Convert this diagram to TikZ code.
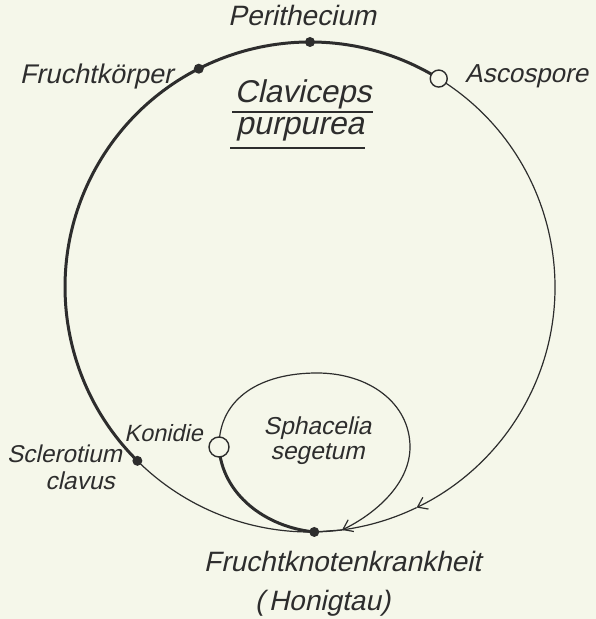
\documentclass[tikz,border=0pt]{standalone}
\usepackage{fontspec}
\newfontfamily\labfont{Liberation Sans}[FakeSlant=0.22]
\usetikzlibrary{arrows.meta,calc}
\definecolor{bg}{RGB}{245,247,234}
\definecolor{ink}{RGB}{45,45,45}
\begin{document}
\begin{tikzpicture}[x=1pt,y=1pt,
  thinline/.style={draw=ink,line width=1.2pt},
  thickline/.style={draw=ink,line width=3pt},
  fulldot/.style={circle,fill=ink,inner sep=0,minimum size=10pt},
  opendot/.style={circle,draw=ink,fill=bg,line width=1.4pt,inner sep=0,minimum size=18pt},
  lab/.style={inner sep=0,text=ink},
  barb/.style={-{Straight Barb[length=9pt,width=13pt,line width=1.2pt]}}]
\fill[bg] (0,0) rectangle (596,619);
\useasboundingbox (0,0) rectangle (596,619);
% big cycle
\coordinate (C) at (310,332);
\coordinate (peri) at ($(C)+(90:245pt)$);
\coordinate (frk) at ($(C)+(117:245pt)$);
\coordinate (asco) at ($(C)+(58.3:245pt)$);
\coordinate (scl) at ($(C)+(225.2:245pt)$);
\coordinate (bot) at ($(C)+(271:245pt)$);
\coordinate (arr) at ($(C)+(295.8:245pt)$);
% small loop
\coordinate (kon) at (219,172);
\coordinate (ltop) at (317,246);
\coordinate (lright) at (410,172);
\coordinate (larr) at (342,89);
% lines
\draw[thickline] (asco) arc[start angle=58.3,end angle=225.2,radius=245pt];
\draw[thinline] (scl) arc[start angle=225.2,end angle=271,radius=245pt];
\draw[thinline,barb] (asco) arc[start angle=58.3,end angle=-64.2,radius=245pt];
\draw[thinline] (arr) arc[start angle=-64.2,end angle=-89,radius=245pt];
\draw[thinline] (kon) .. controls (219,222) and (262,246) .. (ltop)
  .. controls (370,246) and (410,215) .. (lright);
\draw[thinline,barb] (lright) .. controls (410,135) and (375,105) .. (larr);
\draw[thinline] (larr) -- (bot);
\draw[thickline] (bot) .. controls (265,92) and (222,125) .. (kon);
% dots
\node[fulldot] (nperi) at (peri) {};
\node[fulldot] (nfrk) at (frk) {};
\node[fulldot] (nscl) at (scl) {};
\node[fulldot] (nbot) at (bot) {};
\node[opendot,minimum size=17pt] (nasco) at (asco) {};
\node[opendot,minimum size=20pt] (nkon) at (kon) {};
% labels
\node[lab,anchor=base] (tperi) at (302,593) {\fontsize{28}{28}\labfont Perithecium};
\node[lab,anchor=base east] (tfrk) at (173,535) {\fontsize{27}{27}\labfont Fruchtkörper};
\node[lab,anchor=base west] (tasco) at (465,536) {\fontsize{26}{26}\labfont Ascospore};
\node[lab,anchor=base] (tclav) at (303,516) {\fontsize{31.5}{31.5}\labfont Claviceps};
\node[lab,anchor=base] (tpurp) at (300,484) {\fontsize{32}{32}\labfont purpurea};
\draw[ink,line width=1.5pt] (232,507) -- (373,507);
\draw[ink,line width=1.5pt] (230,471) -- (365,471);
\node[lab,anchor=base east] (tkon) at (203,177) {\fontsize{23.5}{23.5}\labfont Konidie};
\node[lab,anchor=base east] (tscl) at (122,156) {\fontsize{24.3}{24.3}\labfont Sclerotium};
\node[lab,anchor=base] (tclavus) at (80,129) {\fontsize{24.5}{24.5}\labfont clavus};
\node[lab,anchor=base] (tspha) at (317.5,184) {\fontsize{24.5}{24.5}\labfont Sphacelia};
\node[lab,anchor=base] (tseg) at (317.5,159.5) {\fontsize{24.5}{24.5}\labfont segetum};
\node[lab,anchor=base] (tfkk) at (342.5,47) {\fontsize{28}{28}\labfont Fruchtknotenkrankheit};
\node[lab,anchor=base] (thon) at (322.5,9) {\fontsize{28}{28}\labfont (\,Honigtau)};
\end{tikzpicture}
\end{document}
